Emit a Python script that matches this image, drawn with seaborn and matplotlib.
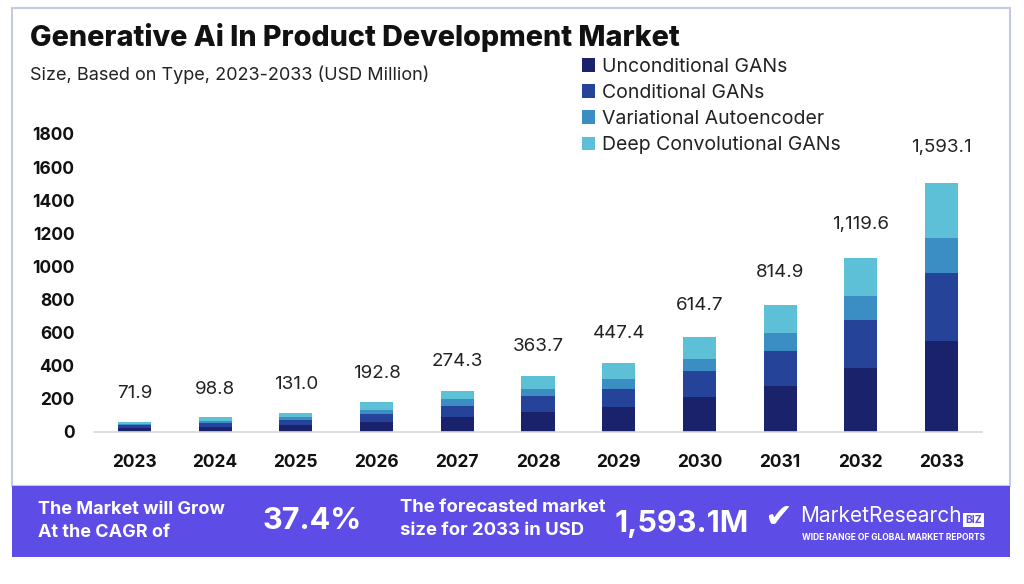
import matplotlib
matplotlib.use("Agg")
import matplotlib.pyplot as plt
from matplotlib.patches import Rectangle
import seaborn as sns
import pandas as pd
import numpy as np

years = ["2023", "2024", "2025", "2026", "2027", "2028", "2029", "2030", "2031", "2032", "2033"]
unconditional = [24, 32, 42, 60, 89, 121, 151, 209, 276, 388, 550]
conditional = [16, 24, 32, 50, 68, 97, 111, 159, 213, 286, 412]
variational = [8, 12, 16, 25, 42, 42, 58, 74, 107, 147, 208]
deep_conv = [14, 20, 27, 44, 50, 79, 95, 133, 171, 231, 332]
total_labels = ["71.9", "98.8", "131.0", "192.8", "274.3", "363.7", "447.4", "614.7", "814.9", "1,119.6", "1,593.1"]
series_names = ["Unconditional GANs", "Conditional GANs", "Variational Autoencoder", "Deep Convolutional GANs"]
colors = ["#1a226c", "#26439a", "#3b8ec4", "#5ec0d7"]
yticks = [0, 200, 400, 600, 800, 1000, 1200, 1400, 1600, 1800]

sns.set_theme(style="white")
plt.rcParams['font.family'] = ['Inter', 'DejaVu Sans']

df = pd.DataFrame({"year": years, "u": unconditional, "c": conditional,
                   "v": variational, "d": deep_conv})
df["c1"] = df["u"]
df["c2"] = df["c1"] + df["c"]
df["c3"] = df["c2"] + df["v"]
df["c4"] = df["c3"] + df["d"]

fig = plt.figure(figsize=(10.24, 5.84), dpi=100)
fig.patch.set_facecolor("white")

# outer frame
fig.add_artist(Rectangle((12/1024, 1-486/584), 998/1024, 478/584, transform=fig.transFigure,
                         fill=False, edgecolor="#c3c9e6", linewidth=1.5))
# bottom banner
fig.add_artist(Rectangle((12/1024, 1-557/584), 998/1024, 71/584, transform=fig.transFigure,
                         facecolor="#5e4ce6", edgecolor="none"))

ax = fig.add_axes([94/1024, 1-432/584, 888/1024, 298/584])
for col, colr in zip(["c4", "c3", "c2", "c1"], colors[::-1]):
    sns.barplot(data=df, x="year", y=col, color=colr, width=0.41, ax=ax,
                saturation=1, edgecolor="none", linewidth=0)

ax.set_ylim(0, 1800)
ax.set_xlim(-0.5, len(years) - 0.5)
ax.set_yticks(yticks)
ax.set_yticklabels([str(t) for t in yticks], fontsize=12.5, fontweight="bold", color="#111111")
ax.set_xticks(range(len(years)))
ax.set_xticklabels(years, fontsize=12.5, fontweight="bold", color="#111111")
ax.tick_params(axis="x", length=0, pad=16)
ax.tick_params(axis="y", length=0, pad=14)
ax.set_xlabel("")
ax.set_ylabel("")
for s in ["top", "right", "left"]:
    ax.spines[s].set_visible(False)
ax.spines["bottom"].set_color("#d8d8d8")
ax.spines["bottom"].set_linewidth(1.2)
ax.patch.set_alpha(0)

for i, (tot, lab) in enumerate(zip(df["c4"], total_labels)):
    ax.annotate(lab, (i, tot), xytext=(0, 20 + 0.004 * tot), textcoords="offset points",
                ha="center", va="center", fontsize=13.5, color="#222222")

# legend
handles = [Rectangle((0, 0), 1, 1, facecolor=c, edgecolor="none") for c in colors]
fig.legend(handles, series_names, loc="upper left", bbox_to_anchor=(572/1024, 1-48/584),
           frameon=False, fontsize=14, handlelength=0.7, handleheight=0.7,
           handletextpad=0.35, labelspacing=0.42, borderpad=0, labelcolor="#222222")

fig.text(30/1024, 1-38/584, "Generative Ai In Product Development Market", fontsize=20.7,
         fontweight="heavy", color="#111111", va="center", ha="left")
fig.text(30/1024, 1-75/584, "Size, Based on Type, 2023-2033 (USD Million)", fontsize=13,
         color="#222222", va="center", ha="left")

# banner texts
fig.text(38/1024, 1-521/584, "The Market will Grow\nAt the CAGR of", fontsize=13,
         fontweight="bold", color="white", va="center", ha="left", linespacing=1.4)
fig.text(262/1024, 1-521/584, "37.4%", fontsize=22, fontweight="bold", color="white",
         va="center", ha="left")
fig.text(400/1024, 1-519/584, "The forecasted market\nsize for 2033 in USD", fontsize=13.3,
         fontweight="bold", color="white", va="center", ha="left", linespacing=1.4)
fig.text(615/1024, 1-524/584, "1,593.1M", fontsize=22, fontweight="bold", color="white",
         va="center", ha="left")
fig.text(764/1024, 1-518/584, "\u2714", fontsize=24, color="white", va="center", ha="left",
         family=["DejaVu Sans"])
fig.text(800/1024, 1-516/584, "MarketResearch", fontsize=15, color="white",
         va="center", ha="left")
fig.text(965/1024, 1-520/584, "BIZ", fontsize=7.5, fontweight="bold", color="#5e4ce6",
         va="center", ha="left",
         bbox=dict(boxstyle="square,pad=0.2", facecolor="white", edgecolor="none"))
fig.text(802/1024, 1-537/584, "WIDE RANGE OF GLOBAL MARKET REPORTS", fontsize=6.1,
         fontweight="bold", color="white", va="center", ha="left")

fig.savefig("out.png", dpi=100, facecolor="white")
